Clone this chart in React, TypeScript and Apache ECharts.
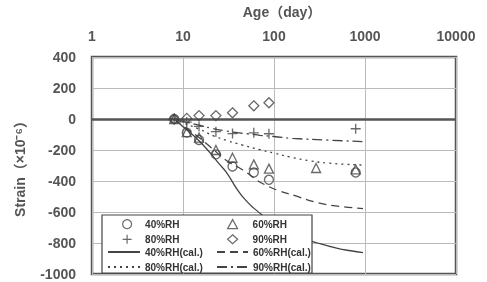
import React, { useEffect, useRef } from "react";
import * as echarts from "echarts";

const xTicks = [1, 10, 100, 1000, 10000];
const yTicks = [400, 200, 0, -200, -400, -600, -800, -1000];

const measAges = [8, 11, 15, 23, 35, 60, 88, 290, 790];
const rh40 = [0, -88, -135, -228, -306, -345, -392, null, -345];
const rh60 = [0, -85, -120, -200, -250, -293, -320, -316, -325];
const rh80 = [0, -20, -48, -82, -94, -89, -95, null, -63];
const rh90 = [0, 4, 22, 22, 40, 85, 105, null, null];

const cal40Ages = [8, 9, 10, 12, 15, 20, 25, 30, 40, 50, 60, 80, 100, 150, 200, 300, 500, 700, 950];
const cal40 = [0, -25, -50, -88, -140, -220, -290, -345, -460, -530, -575, -635, -675, -730, -765, -800, -835, -850, -862];
const cal60Ages = [8, 10, 12, 15, 20, 30, 40, 50, 65, 80, 110, 170, 300, 500, 950];
const cal60 = [0, -45, -78, -120, -180, -268, -310, -345, -395, -425, -460, -495, -540, -562, -578];
const cal80Ages = [8, 10, 15, 22, 30, 45, 70, 100, 150, 250, 400, 950];
const cal80 = [0, -25, -65, -110, -138, -168, -198, -220, -245, -270, -285, -297];
const cal90Ages = [8, 10, 15, 20, 30, 50, 70, 100, 160, 360, 950];
const cal90 = [0, -15, -40, -58, -78, -95, -105, -113, -125, -135, -146];

const INK = "#444";
const FONT = "'Liberation Sans', 'Noto Sans CJK JP', sans-serif";
const PLUS = "path://M5 0 L5 10 M0 5 L10 5";

const pairs = (xs: number[], ys: (number | null)[]) =>
  xs.map((x, i) => [x, ys[i]] as [number, number | null]).filter((p) => p[1] !== null);

const scatter = (name: string, ys: (number | null)[], symbol: string, size: number) => ({
  name,
  type: "scatter",
  data: pairs(measAges, ys),
  symbol,
  symbolSize: size,
  symbolKeepAspect: true,
  itemStyle: { color: "rgba(255,255,255,0)", borderColor: INK, borderWidth: 1.3 },
  z: 5,
});

const calLine = (name: string, xs: number[], ys: number[], type: any) => ({
  name,
  type: "line",
  data: pairs(xs, ys),
  smooth: true,
  symbol: "none",
  showSymbol: false,
  lineStyle: { color: INK, width: 1.3, type },
  itemStyle: { color: INK },
  z: 2,
});

const symItem = (name: string, icon: string) => ({
  name,
  icon,
  itemStyle: { color: "rgba(255,255,255,0)", borderColor: INK, borderWidth: 1.2 },
});
const lineItem = (name: string) => ({ name, itemStyle: { opacity: 0 } });

export default function App() {
  const ref = useRef<HTMLDivElement>(null);
  useEffect(() => {
    if (!ref.current) return;
    const chart = echarts.init(ref.current, undefined, { renderer: "svg" });
    const legendText = { fontSize: 10, fontWeight: "bold", color: "#333", fontFamily: FONT };
    const legendBase = {
      orient: "vertical",
      padding: 0,
      itemHeight: 9,
      itemGap: 5,
      z: 10,
    };
    const fmt = (v: number) => String(Math.round(v));
    chart.setOption({
      animation: false,
      grid: { left: 92, right: 31, top: 49, bottom: 8, show: true, borderColor: "#555", borderWidth: 2.5, backgroundColor: "transparent" },
      xAxis: {
        type: "log",
        logBase: 10,
        min: xTicks[0],
        max: xTicks[xTicks.length - 1],
        position: "top",
        name: "Age（day）",
        nameLocation: "middle",
        nameGap: 38,
        nameTextStyle: { fontSize: 14, fontWeight: "bold", color: "#555", fontFamily: FONT, padding: [0, 0, 0, 16] },
        axisLine: { show: false },
        axisTick: { show: false },
        axisLabel: { fontSize: 14, fontWeight: "bold", color: "#555", margin: 14, fontFamily: FONT, formatter: fmt },
        splitLine: { show: true, lineStyle: { color: "#bbb", width: 1 } },
      },
      yAxis: {
        type: "value",
        min: yTicks[yTicks.length - 1],
        max: yTicks[0],
        interval: 200,
        name: "Strain（×10⁻⁶）",
        nameLocation: "middle",
        nameGap: 65,
        nameRotate: 90,
        nameTextStyle: { fontSize: 14, fontWeight: "bold", color: "#555", fontFamily: FONT },
        axisLine: { show: false },
        axisTick: { show: false },
        axisLabel: { fontSize: 14, fontWeight: "bold", color: "#555", margin: 16, fontFamily: FONT, formatter: fmt },
        splitLine: { show: true, lineStyle: { color: "#bbb", width: 1 } },
      },
      legend: [
        {
          ...legendBase,
          left: 122,
          top: 219,
          itemWidth: 10,
          textStyle: { ...legendText, padding: [0, 0, 0, 8] },
          data: [symItem("40%RH", "circle"), symItem("80%RH", PLUS)],
        },
        {
          ...legendBase,
          left: 227,
          top: 219,
          itemWidth: 10,
          textStyle: { ...legendText, padding: [0, 0, 0, 10] },
          data: [symItem("60%RH", "triangle"), symItem("90%RH", "diamond")],
        },
        {
          ...legendBase,
          left: 107,
          top: 247,
          itemWidth: 32,
          textStyle: legendText,
          data: [lineItem("40%RH(cal.)"), lineItem("80%RH(cal.)")],
        },
        {
          ...legendBase,
          left: 216,
          top: 247,
          itemWidth: 31,
          textStyle: legendText,
          data: [lineItem("60%RH(cal.)"), lineItem("90%RH(cal.)")],
        },
      ],
      graphic: [
        {
          type: "rect",
          z: 8,
          shape: { x: 102, y: 215, width: 210, height: 58 },
          style: { fill: "#fff", stroke: INK, lineWidth: 1.2 },
        },
      ],
      series: [
        calLine("40%RH(cal.)", cal40Ages, cal40, "solid"),
        calLine("60%RH(cal.)", cal60Ages, cal60, [8, 5]),
        calLine("80%RH(cal.)", cal80Ages, cal80, [2, 4]),
        calLine("90%RH(cal.)", cal90Ages, cal90, [10, 4, 2, 4]),
        scatter("40%RH", rh40, "circle", 9),
        scatter("60%RH", rh60, "triangle", 9),
        scatter("80%RH", rh80, PLUS, 10),
        scatter("90%RH", rh90, "diamond", 10),
        {
          name: "zero",
          type: "line",
          data: [],
          markLine: {
            silent: true,
            symbol: "none",
            label: { show: false },
            lineStyle: { color: "#555", width: 2.5, type: "solid" },
            data: [{ yAxis: 0 }],
          },
          z: 3,
        },
      ],
    });
    return () => chart.dispose();
  }, []);
  return <div ref={ref} style={{ position: "fixed", left: 0, top: 0, width: 487, height: 282 }} />;
}
